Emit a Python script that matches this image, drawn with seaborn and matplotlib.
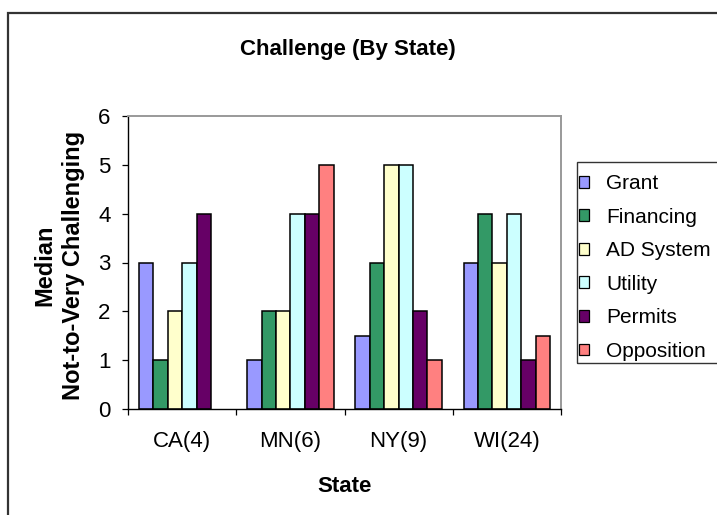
import numpy as np
import pandas as pd
import matplotlib
matplotlib.use("Agg")
import matplotlib.pyplot as plt
from matplotlib.patches import Rectangle, Patch
import seaborn as sns

# Median challenge ratings per state (number of respondents in parentheses)
states = ["CA(4)", "MN(6)", "NY(9)", "WI(24)"]
challenges = ["Grant", "Financing", "AD System", "Utility", "Permits", "Opposition"]
grant = [3, 1, 1.5, 3]
financing = [1, 2, 3, 4]
ad_system = [2, 2, 5, 3]
utility = [3, 4, 5, 4]
permits = [4, 4, 2, 1]
opposition = [np.nan, 5, 1, 1.5]
colors = ["#9999FF", "#339966", "#FFFFCC", "#CCFFFF", "#660066", "#FF8080"]

series = [grant, financing, ad_system, utility, permits, opposition]
rows = []
for name, vals in zip(challenges, series):
    for st, v in zip(states, vals):
        rows.append({"State": st, "Challenge": name, "Median": v})
df = pd.DataFrame(rows).dropna()

sns.set_style("white", {"text.color": "black", "axes.labelcolor": "black",
                        "xtick.color": "black", "ytick.color": "black"})
plt.rcParams["font.family"] = ["Liberation Sans", "DejaVu Sans"]

W, H = 717, 515
fig = plt.figure(figsize=(W / 100, H / 100), dpi=100)
fig.patch.set_facecolor("white")


def fx(px):
    return px / W


def fy(py):
    return 1 - py / H


x0, x1, y0, y1 = 128, 561, 116, 409
ax = fig.add_axes([fx(x0), fy(y1), fx(x1) - fx(x0), fy(y0) - fy(y1)])

sns.barplot(data=df, x="State", y="Median", hue="Challenge",
            order=states, hue_order=challenges, palette=colors,
            saturation=1, width=0.8, edgecolor="black", linewidth=1.1,
            errorbar=None, ax=ax, legend=False)

ax.set_xlim(-0.5, len(states) - 0.5)
ax.set_ylim(0, 6)
ax.set_yticks(range(0, 7))
ax.set_xticks(range(len(states)))
ax.set_xticklabels(states)
ax.set_xticks(np.arange(-0.5, len(states), 1.0), minor=True)
ax.set_xlabel("")
ax.set_ylabel("")

ax.tick_params(axis="y", which="major", direction="out", length=4.5, width=0.9,
               pad=8, labelsize=16, colors="black", left=True)
ax.tick_params(axis="x", which="major", length=0, pad=16, labelsize=16,
               colors="black")
ax.tick_params(axis="x", which="minor", direction="out", length=4.5, width=0.9,
               bottom=True, colors="black")

for side in ("left", "bottom"):
    ax.spines[side].set_color("black")
    ax.spines[side].set_linewidth(1.0)
for side in ("top", "right"):
    ax.spines[side].set_visible(True)
    ax.spines[side].set_color("#999999")
    ax.spines[side].set_linewidth(1.4)

# Titles
fig.text(fx(348), fy(49), "Challenge (By State)", ha="center", va="center",
         fontsize=16, fontweight="bold", color="black")
fig.text(fx(344.5), fy(486), "State", ha="center", va="center",
         fontsize=16, fontweight="bold", color="black")
fig.text(fx(59), fy(265), "Median\nNot-to-Very Challenging", ha="center",
         va="center", rotation=90, fontsize=17, fontweight="bold",
         linespacing=1.3, multialignment="center", color="black")

# Legend
handles = [Patch(facecolor=c, edgecolor="black", linewidth=0.9) for c in colors]
fig.legend(handles, challenges, loc="upper left",
           bbox_to_anchor=(fx(579), fy(174)), bbox_transform=fig.transFigure,
           frameon=False, borderpad=0, borderaxespad=0, fontsize=15,
           handlelength=0.5, handleheight=0.5, handletextpad=0.8,
           labelspacing=0.7, labelcolor="black")
fig.patches.append(Rectangle((fx(577), fy(363)), fx(760) - fx(577),
                             fy(162) - fy(363), transform=fig.transFigure,
                             facecolor="none", edgecolor="#333333",
                             linewidth=1.0, clip_on=False))

# Outer chart frame
fig.patches.append(Rectangle((fx(8), fy(540)), fx(760) - fx(8),
                             fy(13) - fy(540), transform=fig.transFigure,
                             facecolor="none", edgecolor="#333333",
                             linewidth=1.6, clip_on=False))

fig.savefig("out.png", dpi=100)
